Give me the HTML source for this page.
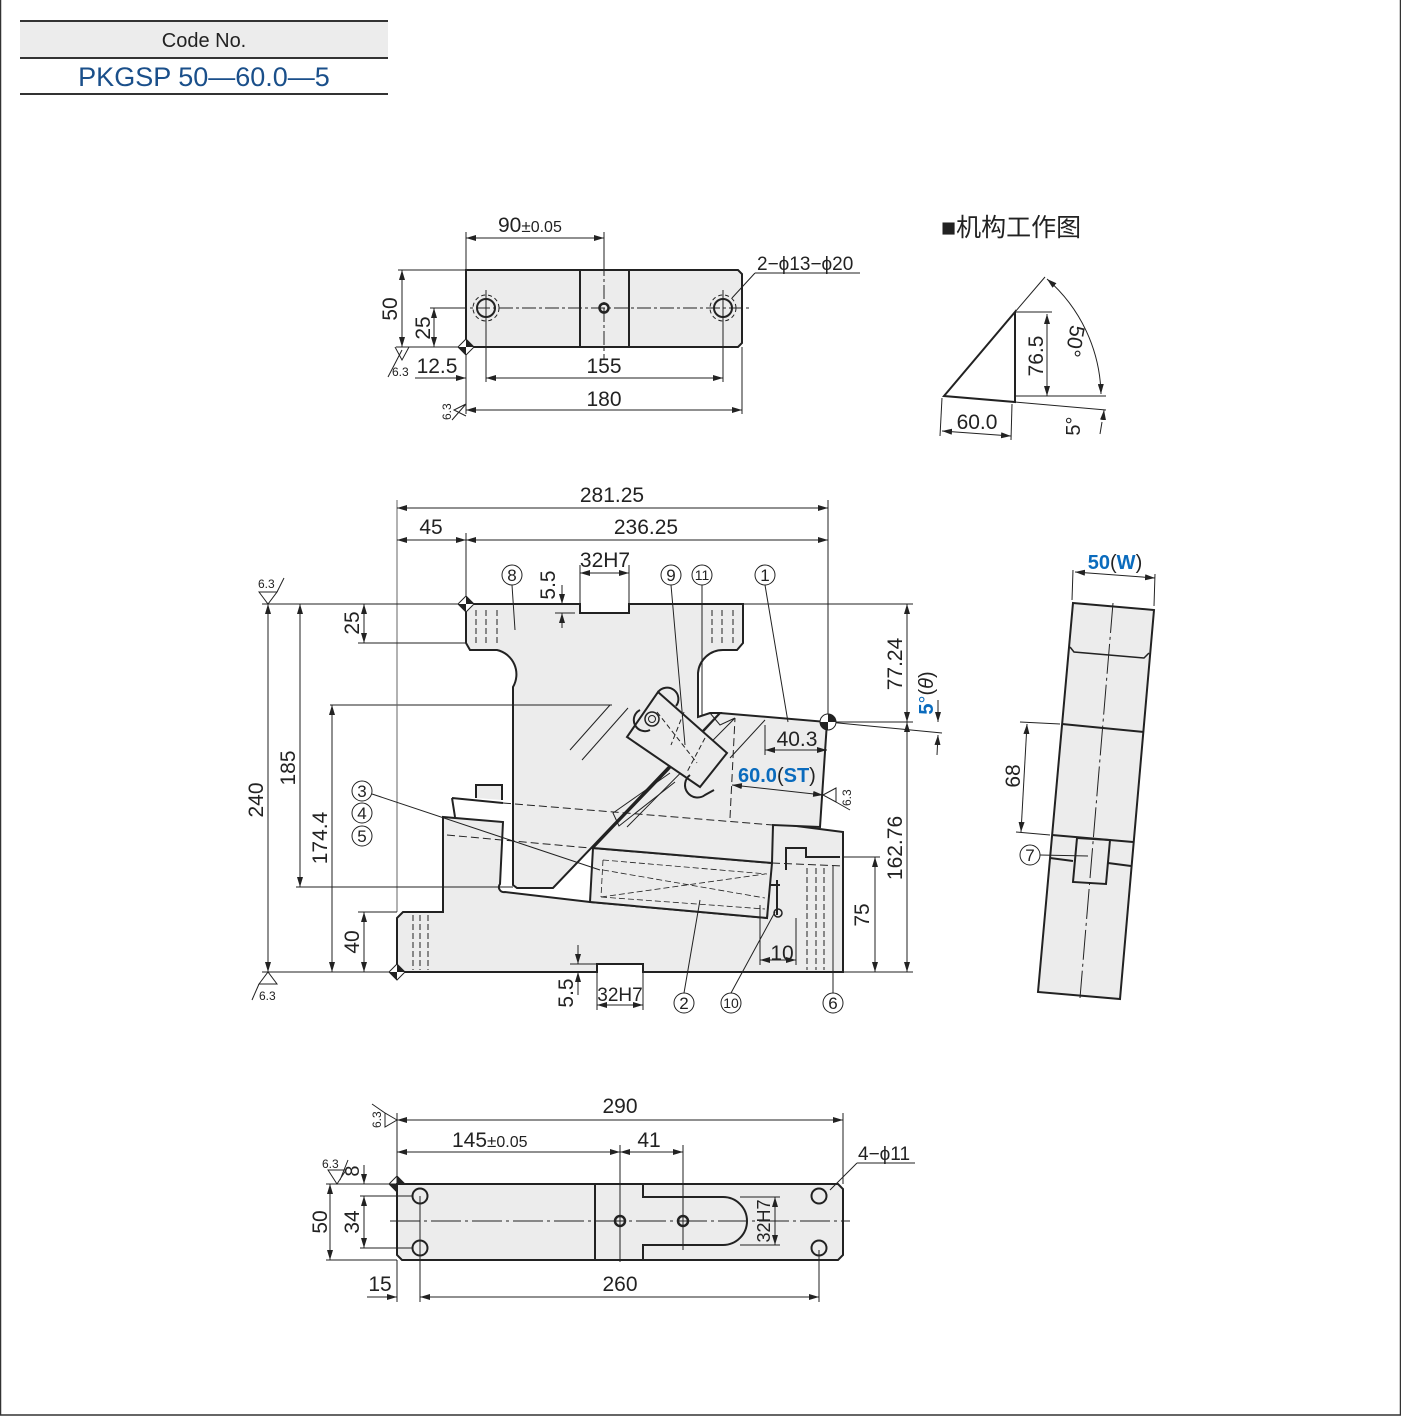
<!DOCTYPE html>
<html><head><meta charset="utf-8"><style>
html,body{margin:0;padding:0;background:#fff}
svg{display:block}
text{font-family:"Liberation Sans","Noto Sans CJK SC",sans-serif;fill:#222}
</style></head><body>
<svg width="1401" height="1417" viewBox="0 0 1401 1417" xmlns="http://www.w3.org/2000/svg">
<defs>
<marker id="a" viewBox="0 0 10 6" refX="10" refY="3" markerWidth="10" markerHeight="6" orient="auto-start-reverse" markerUnits="userSpaceOnUse"><path d="M0,0L10,3L0,6Z" fill="#222"/></marker>
</defs>
<rect x="0.5" y="-2" width="1400" height="1417" fill="none" stroke="#333" stroke-width="1.5"/>
<!-- header -->
<rect x="20" y="21" width="368" height="36" fill="#ececec"/>
<line x1="20" y1="21" x2="388" y2="21" stroke="#333" stroke-width="2"/>
<line x1="20" y1="58" x2="388" y2="58" stroke="#333" stroke-width="2"/>
<line x1="20" y1="94" x2="388" y2="94" stroke="#333" stroke-width="2"/>
<text x="204" y="47" font-size="20" text-anchor="middle">Code No.</text>
<text x="204" y="86" font-size="27" text-anchor="middle" style="fill:#1a4f8a">PKGSP 50—60.0—5</text>

<g stroke="#222" stroke-width="1" fill="none">
<!-- TOP VIEW -->
<path d="M466,270H738L742,274V343L738,347H466Z" fill="#ececec" stroke-width="2"/>
<line x1="580" y1="270" x2="580" y2="347" stroke-width="2"/>
<line x1="629" y1="270" x2="629" y2="347" stroke-width="2"/>
<circle cx="486" cy="308" r="9" stroke-width="2"/>
<circle cx="486" cy="308" r="13" stroke-dasharray="4,3"/>
<circle cx="723" cy="308" r="9" stroke-width="2"/>
<circle cx="723" cy="308" r="13" stroke-dasharray="4,3"/>
<circle cx="604" cy="308" r="4.5" stroke-width="2.5"/>
<line x1="430" y1="308" x2="750" y2="308" stroke-dasharray="14,3,3,3"/>
<line x1="604" y1="262" x2="604" y2="360" stroke-dasharray="14,3,3,3"/>
<line x1="486" y1="290" x2="486" y2="382"/>
<line x1="723" y1="290" x2="723" y2="382"/>
<line x1="466" y1="232" x2="466" y2="414"/>
<line x1="742" y1="347" x2="742" y2="414"/>
<line x1="604" y1="232" x2="604" y2="262"/>
<line x1="466" y1="238" x2="604" y2="238" marker-start="url(#a)" marker-end="url(#a)"/>
<line x1="486" y1="378" x2="723" y2="378" marker-start="url(#a)" marker-end="url(#a)"/>
<line x1="415" y1="378" x2="466" y2="378" marker-end="url(#a)"/>
<line x1="466" y1="410" x2="742" y2="410" marker-start="url(#a)" marker-end="url(#a)"/>
<line x1="398" y1="270" x2="466" y2="270"/>
<line x1="396" y1="347" x2="466" y2="347"/>
<line x1="430" y1="308" x2="466" y2="308"/>
<line x1="402" y1="270" x2="402" y2="347" marker-start="url(#a)" marker-end="url(#a)"/>
<line x1="434" y1="308" x2="434" y2="347" marker-start="url(#a)" marker-end="url(#a)"/>
<path d="M755,273H860M755,273L732,298" />
<path d="M395,347L402,360L409,347M388,377L402,350"/>
<path d="M466,404L454,410L466,416M452,420L466,404"/>

<!-- MECHANISM -->
<path d="M944,396L1015,312V402Z" stroke-width="2"/>
<line x1="1015" y1="396" x2="1106" y2="396"/>
<line x1="1015" y1="402" x2="1106" y2="410"/>
<line x1="1015" y1="312" x2="1045" y2="277"/>
<line x1="1015" y1="312" x2="1052" y2="312"/>
<line x1="1047" y1="314" x2="1047" y2="396" marker-start="url(#a)" marker-end="url(#a)"/>
<path d="M1047,279A157,157 0 0 1 1101,394" marker-start="url(#a)" marker-end="url(#a)"/>
<line x1="1102" y1="422" x2="1100" y2="434"/>
<line x1="1103" y1="420" x2="1104" y2="410" marker-end="url(#a)"/>
<line x1="942" y1="398" x2="940" y2="436"/>
<line x1="1012" y1="404" x2="1011" y2="440"/>
<line x1="942" y1="431" x2="1011" y2="436" marker-start="url(#a)" marker-end="url(#a)"/>

<!-- MAIN VIEW -->
<path d="M397,918L403,912H443V817L503,822L500,884A5,5 0 0 0 505,892L590,902L767,918L773,823L843,832V972H643V964H597V972H397Z" fill="#ececec" stroke-width="2"/>
<path d="M452,798L455,817M452,798L503,803M476,798V785H502V800" fill="#ececec" stroke-width="2"/>
<path d="M593,848L772,863L767,918L590,902Z" fill="#ececec" stroke-width="2"/>
<path d="M720,713L827,722L820,827L773,825L772,863L593,848L613,827L668,770Z" fill="#ececec" stroke-width="2"/>
<path d="M466,604H580V613H629V604H743V643L737,650H723A25,25 0 0 0 698,673V717L710,713H720L553,888H517L513,885V687A25,25 0 0 0 497,650H470L466,643Z" fill="#ececec" stroke-width="2"/>
<path d="M710,713L720,725L735,718M735,718L627,827M765,720L730,758"/>
<path d="M670,773L613,813L619,826L675,782"/>
<!-- roller holder -->
<path d="M658,692L727,753L700,787L627,737Z" fill="#ececec" stroke-width="2"/>
<path d="M658,692A11,11 0 0 1 676,706" stroke-width="2"/>
<path d="M640,710A11,11 0 0 0 650,730" stroke-width="2"/>
<path d="M690,775A10,10 0 0 0 705,795L714,790" stroke-width="2"/>
<circle cx="652" cy="719" r="7" stroke-width="1.5"/>
<circle cx="652" cy="719" r="3.5"/>
<line x1="657" y1="712" x2="697" y2="763" stroke-dasharray="5,3"/>
<line x1="684" y1="712" x2="671" y2="745" stroke-dasharray="5,3"/>
<line x1="705" y1="738" x2="687" y2="772" stroke-dasharray="5,3"/>
<line x1="570" y1="750" x2="610" y2="705"/>
<line x1="582" y1="760" x2="628" y2="708"/>
<line x1="330" y1="705" x2="612" y2="705"/>
<!-- dashed hidden lines -->
<line x1="503" y1="803" x2="773" y2="825" stroke-dasharray="8,4"/>
<line x1="447" y1="835" x2="590" y2="848" stroke-dasharray="8,4"/>
<line x1="772" y1="863" x2="843" y2="866" stroke-dasharray="8,4"/>
<line x1="730" y1="818" x2="735" y2="718" stroke-dasharray="8,4"/>
<path d="M603,860L767,874M601,897L765,909M603,860L601,897M603,870L765,898M601,897L765,874" stroke-dasharray="6,3" stroke-width="0.8"/>
<path d="M786,870V848H806V857H840" stroke-width="2"/>
<path d="M777,880V915M770,885H780" stroke-width="2"/>
<circle cx="778" cy="913" r="4" stroke-width="1.5"/>
<path d="M476,610V645M486,610V645M497,610V645M712,610V645M722,610V645M733,610V645" stroke-dasharray="6,3"/>
<path d="M413,915V970M420,915V970M428,915V970M807,868V970M816,868V970M824,868V970M833,868V970" stroke-dasharray="6,3"/>
<!-- dims main -->
<line x1="397" y1="500" x2="397" y2="912" stroke="#666"/>
<line x1="828" y1="500" x2="828" y2="722"/>
<line x1="466" y1="533" x2="466" y2="604"/>
<line x1="397" y1="508" x2="828" y2="508" marker-start="url(#a)" marker-end="url(#a)"/>
<line x1="397" y1="540" x2="466" y2="540" marker-start="url(#a)" marker-end="url(#a)"/>
<line x1="466" y1="540" x2="828" y2="540" marker-start="url(#a)" marker-end="url(#a)"/>
<line x1="580" y1="565" x2="580" y2="604"/><line x1="629" y1="565" x2="629" y2="604"/>
<line x1="580" y1="573" x2="629" y2="573" marker-start="url(#a)" marker-end="url(#a)"/>
<line x1="555" y1="613" x2="575" y2="613"/>
<line x1="562" y1="585" x2="562" y2="604" marker-end="url(#a)"/>
<line x1="562" y1="628" x2="562" y2="613" marker-end="url(#a)"/>
<line x1="262" y1="604" x2="466" y2="604"/>
<line x1="262" y1="972" x2="397" y2="972"/>
<line x1="296" y1="887" x2="513" y2="887"/>
<line x1="358" y1="643" x2="466" y2="643"/>
<line x1="358" y1="912" x2="397" y2="912"/>
<line x1="268" y1="604" x2="268" y2="972" marker-start="url(#a)" marker-end="url(#a)"/>
<line x1="300" y1="604" x2="300" y2="887" marker-start="url(#a)" marker-end="url(#a)"/>
<line x1="332" y1="705" x2="332" y2="972" marker-start="url(#a)" marker-end="url(#a)"/>
<line x1="364" y1="604" x2="364" y2="643" marker-start="url(#a)" marker-end="url(#a)"/>
<line x1="364" y1="912" x2="364" y2="972" marker-start="url(#a)" marker-end="url(#a)"/>
<line x1="743" y1="604" x2="913" y2="604"/>
<line x1="828" y1="722" x2="913" y2="722"/>
<line x1="843" y1="972" x2="913" y2="972"/>
<line x1="843" y1="857" x2="880" y2="857"/>
<line x1="907" y1="604" x2="907" y2="722" marker-start="url(#a)" marker-end="url(#a)"/>
<line x1="907" y1="722" x2="907" y2="972" marker-start="url(#a)" marker-end="url(#a)"/>
<line x1="875" y1="857" x2="875" y2="972" marker-start="url(#a)" marker-end="url(#a)"/>
<line x1="828" y1="722" x2="942" y2="733"/>
<line x1="938" y1="700" x2="938" y2="722" marker-end="url(#a)"/>
<line x1="937" y1="755" x2="938" y2="735" marker-end="url(#a)"/>
<line x1="765" y1="725" x2="765" y2="755"/>
<line x1="765" y1="750" x2="827" y2="750" marker-start="url(#a)" marker-end="url(#a)"/>
<line x1="732" y1="785" x2="823" y2="795" marker-start="url(#a)" marker-end="url(#a)"/>
<path d="M823,795L836,788L836,802ZM836,802L850,810" fill="none"/>
<line x1="760" y1="905" x2="760" y2="965"/><line x1="796" y1="918" x2="796" y2="965"/>
<line x1="760" y1="960" x2="796" y2="960" marker-start="url(#a)" marker-end="url(#a)"/>
<line x1="597" y1="972" x2="597" y2="1010"/><line x1="643" y1="972" x2="643" y2="1010"/>
<line x1="597" y1="1005" x2="643" y2="1005" marker-start="url(#a)" marker-end="url(#a)"/>
<line x1="578" y1="945" x2="578" y2="964" marker-end="url(#a)"/>
<line x1="578" y1="995" x2="578" y2="972" marker-end="url(#a)"/>
<line x1="570" y1="964" x2="597" y2="964"/>
<path d="M259,592L268,604L277,592ZM277,592L284,578" />
<path d="M259,984L268,972L277,984ZM259,984L252,1000"/>
<!-- leaders -->
<path d="M512,585L515,630M671,585L685,745M702,585L702,716M765,585L788,722M372,794L600,870M684,993L700,900M731,993L775,912M833,993L833,866"/>
<g>
<circle cx="512" cy="575" r="10"/><circle cx="671" cy="575" r="10"/><circle cx="702" cy="575" r="10"/><circle cx="765" cy="575" r="10"/>
<circle cx="362" cy="791" r="10"/><circle cx="362" cy="813" r="10"/><circle cx="362" cy="836" r="10"/>
<circle cx="684" cy="1003" r="10"/><circle cx="731" cy="1003" r="10"/><circle cx="833" cy="1003" r="10"/>
<circle cx="1030" cy="855" r="10"/>
</g>
<!-- datum markers -->
<g fill="#222" stroke="none">
<path d="M466,596L474,604L466,612L458,604Z" fill="#fff" stroke="#222"/><path d="M466,596L474,604H466ZM466,612L458,604H466Z"/>
<path d="M397,964L405,972L397,980L389,972Z" fill="#fff" stroke="#222"/><path d="M397,964L405,972H397ZM397,980L389,972H397Z"/>
<path d="M466,339L474,347L466,355L458,347Z" fill="#fff" stroke="#222"/><path d="M466,339L474,347H466ZM466,355L458,347H466Z"/>
<path d="M397,1176L405,1184L397,1192L389,1184Z" fill="#fff" stroke="#222"/><path d="M397,1176L405,1184H397ZM397,1192L389,1184H397Z"/>
<circle cx="828" cy="722" r="8" fill="#fff" stroke="#222"/><path d="M828,714A8,8 0 0 1 836,722H828ZM828,730A8,8 0 0 1 820,722H828Z"/>
</g>

<!-- RIGHT VIEW -->
<path d="M1073,603L1154,610L1120,999L1038,992Z" fill="#ececec" stroke-width="2"/>
<path d="M1070,647L1074,652L1144,658L1149,653" stroke-width="1.5"/>
<line x1="1062" y1="724" x2="1144" y2="732" stroke-width="2"/>
<line x1="1052" y1="835" x2="1133" y2="842" stroke-width="2"/>
<line x1="1050" y1="858" x2="1073" y2="861" stroke-width="2"/>
<line x1="1108" y1="863" x2="1131" y2="866" stroke-width="2"/>
<path d="M1077,838L1110,840L1106,884L1073,882Z" stroke-width="2"/>
<line x1="1113" y1="603" x2="1080" y2="998" stroke-dasharray="30,4,3,4"/>
<line x1="1040" y1="855" x2="1088" y2="856"/>
<line x1="1020" y1="722" x2="1060" y2="724"/>
<line x1="1016" y1="832" x2="1050" y2="835"/>
<line x1="1027" y1="724" x2="1021" y2="832" marker-start="url(#a)" marker-end="url(#a)"/>
<line x1="1073" y1="570" x2="1072" y2="600"/><line x1="1155" y1="574" x2="1154" y2="606"/>
<line x1="1075" y1="572" x2="1155" y2="578" marker-start="url(#a)" marker-end="url(#a)"/>

<!-- BOTTOM VIEW -->
<path d="M397,1184H838L843,1189V1255L838,1260H402L397,1255Z" fill="#ececec" stroke-width="2"/>
<line x1="595" y1="1184" x2="595" y2="1260" stroke-width="2"/>
<path d="M643,1184V1197H723A24,24 0 0 1 723,1245H643V1260" stroke-width="2"/>
<circle cx="420" cy="1196" r="7.5" stroke-width="2"/><circle cx="420" cy="1248" r="7.5" stroke-width="2"/>
<circle cx="819" cy="1196" r="7.5" stroke-width="2"/><circle cx="819" cy="1248" r="7.5" stroke-width="2"/>
<circle cx="620" cy="1221" r="5" stroke-width="2.5"/><circle cx="683" cy="1221" r="5" stroke-width="2.5"/>
<line x1="390" y1="1221" x2="850" y2="1221" stroke-dasharray="30,4,3,4"/>
<line x1="397" y1="1113" x2="397" y2="1184"/><line x1="843" y1="1113" x2="843" y2="1184"/>
<line x1="397" y1="1260" x2="397" y2="1302"/><line x1="420" y1="1196" x2="420" y2="1302"/><line x1="819" y1="1250" x2="819" y2="1302"/>
<line x1="620" y1="1145" x2="620" y2="1262"/><line x1="683" y1="1145" x2="683" y2="1250"/>
<line x1="397" y1="1120" x2="843" y2="1120" marker-start="url(#a)" marker-end="url(#a)"/>
<line x1="397" y1="1152" x2="620" y2="1152" marker-start="url(#a)" marker-end="url(#a)"/>
<line x1="620" y1="1152" x2="683" y2="1152" marker-start="url(#a)" marker-end="url(#a)"/>
<line x1="420" y1="1297" x2="819" y2="1297" marker-start="url(#a)" marker-end="url(#a)"/>
<line x1="367" y1="1297" x2="397" y2="1297" marker-end="url(#a)"/>
<line x1="326" y1="1184" x2="397" y2="1184"/><line x1="326" y1="1260" x2="397" y2="1260"/>
<line x1="360" y1="1196" x2="412" y2="1196"/><line x1="360" y1="1248" x2="412" y2="1248"/>
<line x1="330" y1="1184" x2="330" y2="1260" marker-start="url(#a)" marker-end="url(#a)"/>
<line x1="364" y1="1196" x2="364" y2="1248" marker-start="url(#a)" marker-end="url(#a)"/>
<line x1="364" y1="1165" x2="364" y2="1184" marker-end="url(#a)"/>
<line x1="740" y1="1197" x2="780" y2="1197"/><line x1="740" y1="1245" x2="780" y2="1245"/>
<line x1="775" y1="1197" x2="775" y2="1245" marker-start="url(#a)" marker-end="url(#a)"/>
<path d="M857,1163H915M857,1163L830,1190"/>
<path d="M397,1120L385,1113L385,1127ZM385,1113L372,1104"/>
<path d="M328,1170L337,1184L346,1170ZM340,1180L348,1160"/>
</g>

<!-- TEXT -->
<g font-size="20">
<text x="498" y="232" font-size="21">90<tspan font-size="17">±</tspan><tspan font-size="16">0.05</tspan></text>
<text x="757" y="270" font-size="19">2−ϕ13−ϕ20</text>
<text x="437" y="373" text-anchor="middle" font-size="21">12.5</text>
<text x="604" y="373" text-anchor="middle" font-size="21">155</text>
<text x="604" y="406" text-anchor="middle" font-size="21">180</text>
<text transform="translate(397,309) rotate(-90)" text-anchor="middle" font-size="21">50</text>
<text transform="translate(430,328) rotate(-90)" text-anchor="middle" font-size="21">25</text>
<text x="392" y="376" font-size="12">6.3</text>
<text transform="translate(451,420) rotate(-90)" font-size="12">6.3</text>

<text x="941" y="236" font-size="25" style="font-weight:bold">■<tspan font-weight="normal">机构工作图</tspan></text>
<text transform="translate(1043,356) rotate(-90)" text-anchor="middle" font-size="21">76.5</text>
<text x="977" y="429" text-anchor="middle" font-size="21">60.0</text>
<text transform="translate(1068,340) rotate(100)" text-anchor="middle" font-size="21">50°</text>
<text transform="translate(1080,426) rotate(-90)" text-anchor="middle" font-size="20">5°</text>

<text x="612" y="502" text-anchor="middle" font-size="21">281.25</text>
<text x="431" y="534" text-anchor="middle" font-size="21">45</text>
<text x="646" y="534" text-anchor="middle" font-size="21">236.25</text>
<text x="605" y="567" text-anchor="middle" font-size="21">32H7</text>
<text transform="translate(555,585) rotate(-90)" text-anchor="middle" font-size="21">5.5</text>
<text transform="translate(263,800) rotate(-90)" text-anchor="middle" font-size="21">240</text>
<text transform="translate(295,768) rotate(-90)" text-anchor="middle" font-size="21">185</text>
<text transform="translate(327,838) rotate(-90)" text-anchor="middle" font-size="21">174.4</text>
<text transform="translate(359,623) rotate(-90)" text-anchor="middle" font-size="21">25</text>
<text transform="translate(359,942) rotate(-90)" text-anchor="middle" font-size="21">40</text>
<text transform="translate(902,664) rotate(-90)" text-anchor="middle" font-size="21">77.24</text>
<text transform="translate(902,848) rotate(-90)" text-anchor="middle" font-size="21">162.76</text>
<text transform="translate(869,915) rotate(-90)" text-anchor="middle" font-size="21">75</text>
<text transform="translate(933,693) rotate(-90)" text-anchor="middle" font-size="20"><tspan style="fill:#0a6bbd;font-weight:bold">5</tspan><tspan style="fill:#0a6bbd">°</tspan>(<tspan font-style="italic">θ</tspan>)</text>
<text x="797" y="746" text-anchor="middle" font-size="21">40.3</text>
<text x="738" y="782" font-size="20"><tspan style="fill:#0a6bbd;font-weight:bold">60.0</tspan><tspan>(</tspan><tspan style="fill:#0a6bbd;font-weight:bold">ST</tspan><tspan>)</tspan></text>
<text transform="translate(851,806) rotate(-90)" font-size="12">6.3</text>
<text x="782" y="960" text-anchor="middle" font-size="21">10</text>
<text x="620" y="1001" text-anchor="middle" font-size="19">32H7</text>
<text transform="translate(573,993) rotate(-90)" text-anchor="middle" font-size="21">5.5</text>
<text x="258" y="588" font-size="12">6.3</text>
<text x="259" y="1000" font-size="12">6.3</text>
<g font-size="17" text-anchor="middle">
<text x="512" y="581">8</text><text x="671" y="581">9</text><text x="702" y="580" font-size="14">11</text><text x="765" y="581">1</text>
<text x="362" y="797">3</text><text x="362" y="819">4</text><text x="362" y="842">5</text>
<text x="684" y="1009">2</text><text x="731" y="1008" font-size="14">10</text><text x="833" y="1009">6</text>
<text x="1030" y="861">7</text>
</g>

<text x="1115" y="569" text-anchor="middle" font-size="20"><tspan style="fill:#0a6bbd;font-weight:bold">50</tspan>(<tspan style="fill:#0a6bbd;font-weight:bold">W</tspan>)</text>
<text transform="translate(1020,776) rotate(-90)" text-anchor="middle" font-size="21">68</text>

<text x="620" y="1113" text-anchor="middle" font-size="21">290</text>
<text x="452" y="1147" font-size="21">145<tspan font-size="17">±</tspan><tspan font-size="16">0.05</tspan></text>
<text x="649" y="1147" text-anchor="middle" font-size="21">41</text>
<text x="858" y="1160" font-size="19">4−ϕ11</text>
<text transform="translate(359,1171) rotate(-90)" text-anchor="middle" font-size="20">8</text>
<text transform="translate(359,1222) rotate(-90)" text-anchor="middle" font-size="21">34</text>
<text transform="translate(327,1222) rotate(-90)" text-anchor="middle" font-size="21">50</text>
<text transform="translate(770,1221) rotate(-90)" text-anchor="middle" font-size="18">32H7</text>
<text x="380" y="1291" text-anchor="middle" font-size="21">15</text>
<text x="620" y="1291" text-anchor="middle" font-size="21">260</text>
<text transform="translate(381,1128) rotate(-90)" font-size="12">6.3</text>
<text x="322" y="1168" font-size="12">6.3</text>
</g>
</svg>
</body></html>
